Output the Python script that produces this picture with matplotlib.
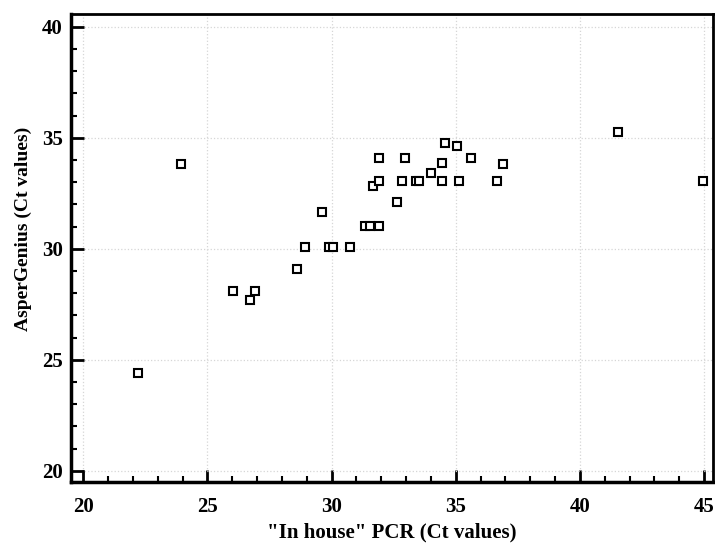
# AsperGenius vs in-house PCR scatter

import matplotlib.pyplot as plt
from matplotlib.ticker import MultipleLocator

inhouse_ct = [22.2, 23.95, 26.05, 26.7, 26.9, 28.6, 28.95, 29.6, 29.9, 30.05,
              30.75, 31.35, 31.55, 31.9, 31.65, 31.9, 31.9, 32.65, 32.85, 32.95,
              33.4, 33.5, 34.0, 34.45, 34.45, 34.55, 35.05, 35.15, 35.6, 36.65,
              36.9, 41.55, 44.95]
aspergenius_ct = [24.4, 33.8, 28.1, 27.7, 28.1, 29.1, 30.1, 31.65, 30.1, 30.1,
                  30.1, 31.05, 31.05, 31.05, 32.85, 33.05, 34.1, 32.1, 33.05, 34.1,
                  33.05, 33.05, 33.4, 33.05, 33.85, 34.75, 34.65, 33.05, 34.1, 33.05,
                  33.8, 35.25, 33.05]

plt.rcParams['font.family'] = ['Liberation Serif', 'DejaVu Serif']

fig = plt.figure(figsize=(7.15, 5.44), dpi=100)
ax = fig.add_axes([0.0993, 0.1145, 0.8977, 0.8595])

ax.plot(inhouse_ct, aspergenius_ct, linestyle='none', marker='s', markersize=5.5,
        markerfacecolor='white', markeredgecolor='black', markeredgewidth=1.5)

ax.set_xlim(19.51, 45.35)
ax.set_ylim(19.51, 40.57)
ax.xaxis.set_major_locator(MultipleLocator(5))
ax.yaxis.set_major_locator(MultipleLocator(5))
ax.xaxis.set_minor_locator(MultipleLocator(1))
ax.yaxis.set_minor_locator(MultipleLocator(1))
ax.tick_params(which='major', direction='in', length=9, width=2, labelsize=15)
ax.tick_params(which='minor', direction='in', length=4, width=1.5)
ax.tick_params(axis='x', which='major', pad=11)
ax.tick_params(axis='y', which='major', pad=6)
ax.tick_params(top=False, right=False, which='both')
for lbl in ax.get_xticklabels() + ax.get_yticklabels():
    lbl.set_fontweight('bold')

ax.grid(True, which='major', color='#d6d6d6', linestyle=':', linewidth=0.9)

for side in ['left', 'bottom']:
    ax.spines[side].set_linewidth(2.5)
for side in ['top', 'right']:
    ax.spines[side].set_linewidth(2)

ax.set_xlabel('"In house" PCR (Ct values)', fontsize=15, fontweight='bold', labelpad=4)
ax.set_ylabel('AsperGenius (Ct values)', fontsize=14, fontweight='bold')
ax.yaxis.set_label_coords(-0.061, 0.54)

fig.savefig('out.png', dpi=100)
